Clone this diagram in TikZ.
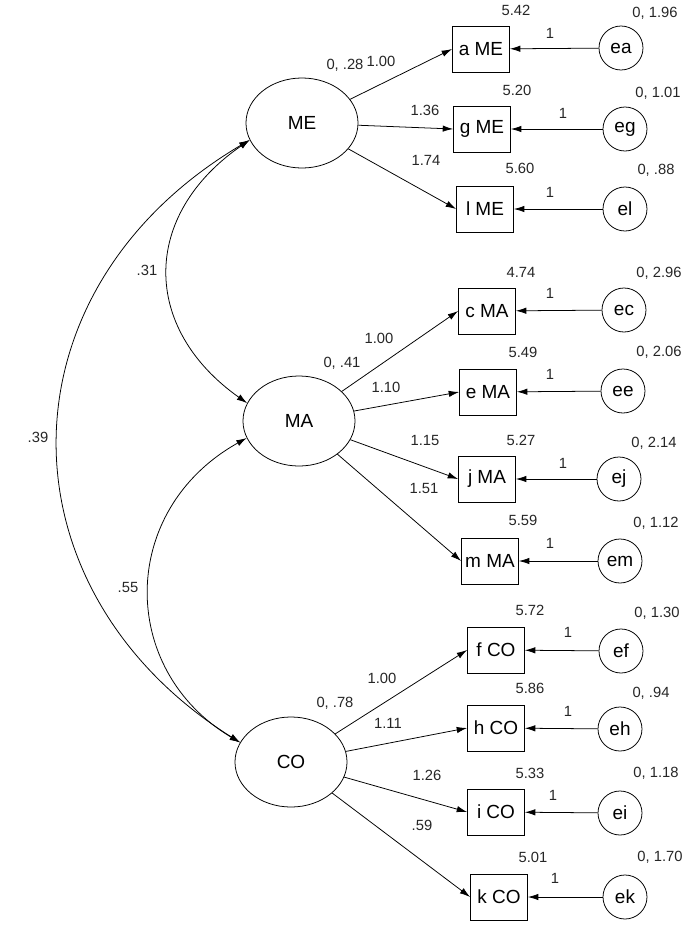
\documentclass[tikz,border=0pt]{standalone}
\usepackage{fontspec}
\setmainfont{Liberation Sans}
\usetikzlibrary{shapes.geometric,arrows.meta}

\tikzset{
  latent/.style={ellipse,draw,line width=0.55pt,minimum width=2.8cm,minimum height=2.25cm,inner sep=0pt,font=\fontsize{13.5}{15}\selectfont},
  obs/.style={rectangle,draw,line width=0.55pt,minimum width=1.425cm,minimum height=1.15cm,inner sep=0pt,font=\fontsize{13.5}{15}\selectfont},
  err/.style={circle,draw,line width=0.55pt,minimum size=1.1cm,inner sep=0pt,font=\fontsize{13.5}{15}\selectfont},
  val/.style={inner sep=0pt,text=black!85,font=\fontsize{10.5}{12}\selectfont},
  fl/.style={-{Latex[length=2.6mm,width=1.6mm]},line width=0.55pt},
  cov/.style={{Latex[length=2.6mm,width=1.6mm]}-{Latex[length=2.6mm,width=1.6mm]},line width=0.55pt},
}

\begin{document}
\begin{tikzpicture}[x=0.025cm,y=-0.025cm]
			\useasboundingbox (0,0) rectangle (685,930);
			
			% Variables latentes
			\node[latent] (ME) at (302,123) {ME};
			\node[latent] (MA) at (299,421) {MA};
			\node[latent] (CO) at (291,762) {CO};
			\node[val] (vME) at (345,65) {0, .28};
			\node[val] (vMA) at (342,363) {0, .41};
			\node[val] (vCO) at (335,703) {0, .78};
			
			% Indicateurs (carrés)
			\node[obs] (aME) at (481,49) {a ME};
			\node[obs] (gME) at (482,129) {g ME};
			\node[obs] (lME) at (485,209) {l ME};
			\node[obs] (cMA) at (487,311) {c MA};
			\node[obs] (eMA) at (488,392) {e MA};
			\node[obs] (jMA) at (487,479) {j MA};
			\node[obs] (mMA) at (490,561) {m MA};
			\node[obs] (fCO) at (496,650) {f CO};
			\node[obs] (hCO) at (496,728) {h CO};
			\node[obs] (iCO) at (496,812) {i CO};
			\node[obs] (kCO) at (499,897) {k CO};
			
			% Constantes au-dessus des carrés
			\node[val] (maME) at (516,10) {5.42};
			\node[val] (mgME) at (517,90) {5.20};
			\node[val] (mlME) at (520,168) {5.60};
			\node[val] (mcMA) at (521,272) {4.74};
			\node[val] (meMA) at (523,352) {5.49};
			\node[val] (mjMA) at (521,440) {5.27};
			\node[val] (mmMA) at (523,520) {5.59};
			\node[val] (mfCO) at (530,610) {5.72};
			\node[val] (mhCO) at (530,688) {5.86};
			\node[val] (miCO) at (530,773) {5.33};
			\node[val] (mkCO) at (533,857) {5.01};
			
			% Erreurs (cercles) et leurs variances
			\node[err] (ea) at (621,48) {ea};
			\node[err] (eg) at (625,129) {eg};
			\node[err] (el) at (625,209) {el};
			\node[err] (ec) at (624,310) {ec};
			\node[err] (ee) at (623,391) {ee};
			\node[err] (ej) at (619,479) {ej};
			\node[err] (em) at (620,561) {em};
			\node[err] (ef) at (621,651) {ef};
			\node[err] (eh) at (620,729) {eh};
			\node[err] (ei) at (620,813) {ei};
			\node[err] (ek) at (625,897) {ek};
			\node[val] (vea) at (655,13) {0, 1.96};
			\node[val] (veg) at (658,93) {0, 1.01};
			\node[val] (vel) at (656,170) {0, .88};
			\node[val] (vec) at (659,273) {0, 2.96};
			\node[val] (vee) at (659,352) {0, 2.06};
			\node[val] (vej) at (654,443) {0, 2.14};
			\node[val] (vem) at (656,523) {0, 1.12};
			\node[val] (vef) at (657,613) {0, 1.30};
			\node[val] (veh) at (651,693) {0, .94};
			\node[val] (vei) at (656,773) {0, 1.18};
			\node[val] (vek) at (660,857) {0, 1.70};
			
			% Flèches des erreurs vers les carrés
			\draw[fl] (ea) -- (aME); \node[val] (wa) at (550,33) {1};
			\draw[fl] (eg) -- (gME); \node[val] (wg) at (563,113) {1};
			\draw[fl] (el) -- (lME); \node[val] (wl) at (550,192) {1};
			\draw[fl] (ec) -- (cMA); \node[val] (wc) at (550,293) {1};
			\draw[fl] (ee) -- (eMA); \node[val] (we) at (550,374) {1};
			\draw[fl] (ej) -- (jMA); \node[val] (wj) at (563,463) {1};
			\draw[fl] (em) -- (mMA); \node[val] (wm) at (550,543) {1};
			\draw[fl] (ef) -- (fCO); \node[val] (wf) at (568,632) {1};
			\draw[fl] (eh) -- (hCO); \node[val] (wh) at (568,711) {1};
			\draw[fl] (ei) -- (iCO); \node[val] (wi) at (553,795) {1};
			\draw[fl] (ek) -- (kCO); \node[val] (wk) at (555,878) {1};
			
			% Saturations (latentes vers carrés)
			\draw[fl] (ME) -- (aME.west); \node[val] (laME) at (381,61) {1.00};
			\draw[fl] (ME) -- (gME.west); \node[val] (lgME) at (425,110) {1.36};
			\draw[fl] (ME) -- (lME.west); \node[val] (llME) at (426,160) {1.74};
			\draw[fl] (MA) -- (cMA.west); \node[val] (lcMA) at (379,338) {1.00};
			\draw[fl] (MA) -- (eMA.west); \node[val] (leMA) at (386,387) {1.10};
			\draw[fl] (MA) -- (jMA.west); \node[val] (ljMA) at (425,440) {1.15};
			\draw[fl] (MA) -- (mMA.west); \node[val] (lmMA) at (424,488) {1.51};
			\draw[fl] (CO) -- (fCO.west); \node[val] (lfCO) at (382,678) {1.00};
			\draw[fl] (CO) -- (hCO.west); \node[val] (lhCO) at (388,723) {1.11};
			\draw[fl] (CO) -- (iCO.west); \node[val] (liCO) at (427,775) {1.26};
			\draw[fl] (CO) -- (kCO.west); \node[val] (lkCO) at (422,825) {.59};
			
			% Covariances (arcs à gauche)
			\draw[cov] (ME.198) .. controls (141,215) and (141,328) .. (MA.161);
			\draw[cov] (ME.198) .. controls (-4,290) and (-4,589) .. (CO.159);
			\draw[cov] (MA.198) .. controls (118,510) and (118,670) .. (CO.159);
			\node[val] (c31) at (147,270) {.31};
			\node[val] (c39) at (38,437) {.39};
			\node[val] (c55) at (128,587) {.55};
			
		\end{tikzpicture}
\end{document}
